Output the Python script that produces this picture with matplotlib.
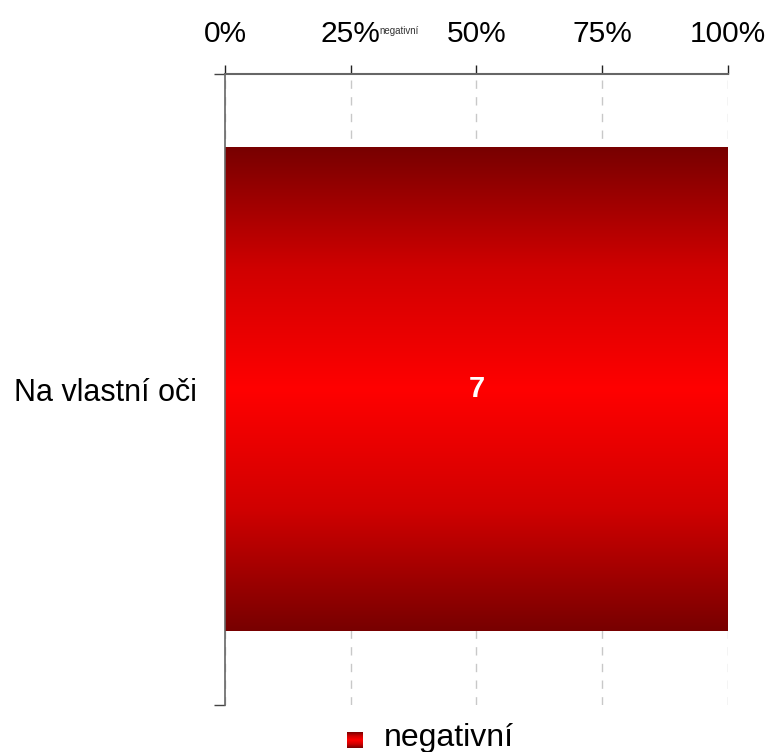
import matplotlib
matplotlib.use('Agg')
import matplotlib.pyplot as plt
from matplotlib.colors import LinearSegmentedColormap
import numpy as np

plt.rcParams['font.family'] = ['Liberation Sans', 'DejaVu Sans']

categories = ['Na vlastní oči']
series_name = 'negativní'
counts = [7]
shares = [100.0]
x_ticks = [0, 25, 50, 75, 100]
x_tick_labels = ['0%', '25%', '50%', '75%', '100%']

bar_height = 0.767
red_cmap = LinearSegmentedColormap.from_list('redgrad', ['#780000', '#d00000', '#ff0000', '#d00000', '#780000'])
grad = np.linspace(0, 1, 256).reshape(-1, 1)

fig = plt.figure(figsize=(7.76, 7.52), dpi=100)
ax = fig.add_axes([0.29, 0.0625, 0.648, 0.8391])

for i, (cat, share, cnt) in enumerate(zip(categories, shares, counts)):
    y0 = i - bar_height / 2
    ax.imshow(grad, cmap=red_cmap, aspect='auto',
              extent=[0, share, y0, y0 + bar_height], zorder=2, interpolation='bicubic')
    ax.text(share / 2, i, str(cnt), color='white', fontsize=21, fontweight='bold',
            ha='center', va='center', zorder=3)

ax.set_xlim(0, 100)
ax.set_ylim(len(categories) - 0.5, -0.5)

ax.xaxis.tick_top()
ax.set_xticks(x_ticks)
ax.set_xticklabels(x_tick_labels, fontsize=21.5)
ax.tick_params(axis='x', direction='out', length=6.5, width=1, color='#222222', pad=12.5)

ax.set_yticks([-0.5 + k for k in range(len(categories) + 1)])
ax.set_yticklabels([])
ax.tick_params(axis='y', which='major', direction='out', length=8, width=1, color='#444444')
ax.set_yticks(range(len(categories)), minor=True)
ax.set_yticklabels(categories, minor=True, fontsize=22)
ax.tick_params(axis='y', which='minor', length=0, pad=20)

for s in ['right', 'bottom']:
    ax.spines[s].set_visible(False)
ax.spines['top'].set_color('#666666')
ax.spines['top'].set_linewidth(1.5)
ax.spines['left'].set_color('#666666')
ax.spines['left'].set_linewidth(1.2)

ax.grid(axis='x', color='#c8c8c8', linestyle=(0, (6, 6)), linewidth=1, zorder=1)
ax.set_axisbelow(True)

# small series name label near the top axis
fig.text(0.489, 0.959, series_name, fontsize=7, color='#333333', ha='left', va='center')

# legend: gradient square + label
lax = fig.add_axes([347 / 776, 1 - 748 / 752, 16 / 776, 16 / 752])
lax.imshow(grad, cmap=red_cmap, aspect='auto', extent=[0, 1, 0, 1])
lax.axis('off')
fig.text(384 / 776, 1 - 738 / 752, series_name, fontsize=23, ha='left', va='center')

fig.savefig('out.png', dpi=100)
